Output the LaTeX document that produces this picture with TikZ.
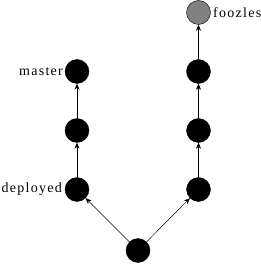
\documentclass[tikz,border=0pt]{standalone}
\usepackage{fontspec}
\setmainfont{Liberation Serif}
\usetikzlibrary{arrows.meta}
\begin{document}
\begin{tikzpicture}[x=1pt,y=-1pt,
  commit/.style={circle,fill=black,draw=black,minimum size=24pt,inner sep=0pt},
  hatched/.style={circle,fill=black!50,draw=black,minimum size=24pt,inner sep=0pt},
  lbl/.style={font=\fontsize{14pt}{16pt}\selectfont\addfontfeature{LetterSpace=9},inner sep=0pt},
  edge/.style={-{Stealth[length=6pt,width=5pt]},line width=0.5pt}]
\useasboundingbox (0,0) rectangle (261,264);
\node[commit] (b) at (138,250.5) {};
\node[commit] (l1) at (77,189.5) {};
\node[commit] (l2) at (77,130.5) {};
\node[commit] (l3) at (77,71.5) {};
\node[commit] (r1) at (198.5,189.5) {};
\node[commit] (r2) at (198.5,130.5) {};
\node[commit] (r3) at (198.5,71.5) {};
\node[hatched] (r4) at (198.5,12.5) {};
\node[lbl,anchor=east] (lm) at (63,71.5) {master};
\node[lbl,anchor=east] (ld) at (62,189.5) {deployed};
\node[lbl,anchor=west] (lf) at (213,12.5) {foozles};
\draw[edge] (b) -- (l1);
\draw[edge] (b) -- (r1);
\draw[edge] (l1) -- (l2);
\draw[edge] (l2) -- (l3);
\draw[edge] (r1) -- (r2);
\draw[edge] (r2) -- (r3);
\draw[edge] (r3) -- (r4);
\end{tikzpicture}
\end{document}
